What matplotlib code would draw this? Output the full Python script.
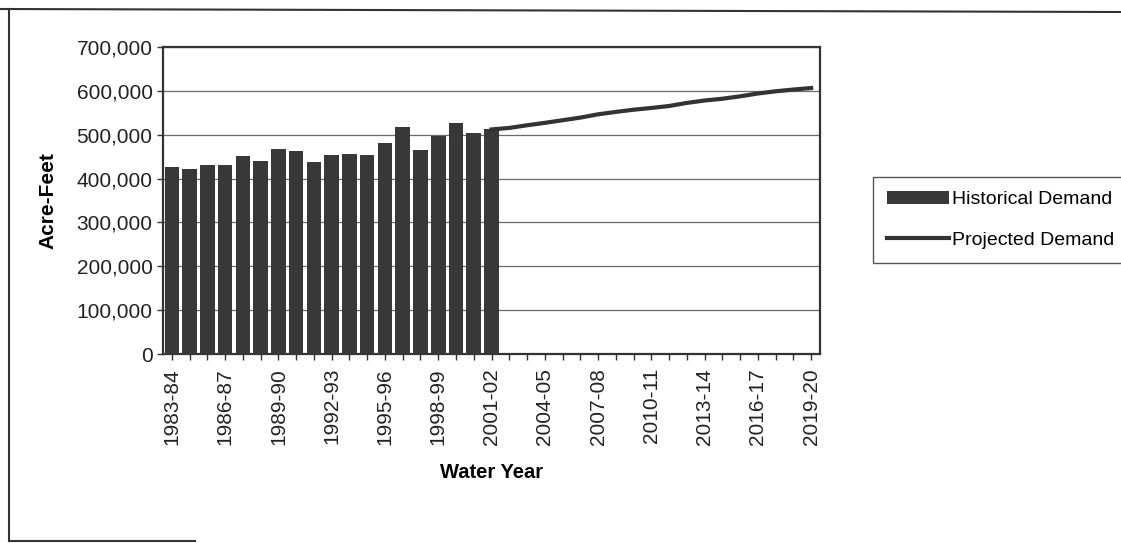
import numpy as np
import matplotlib.pyplot as plt
from matplotlib.lines import Line2D

plt.rcParams['font.family'] = ['Liberation Sans', 'DejaVu Sans']

# water years 1983-84 .. 2019-20
years = [f"{y}-{str(y + 1)[-2:]}" for y in range(1983, 2020)]

# historical demand (acre-feet), 1983-84 .. 2001-02
historical = [427000, 421000, 430000, 430000, 451000, 440000, 468000, 463000,
              437000, 454000, 457000, 454000, 480000, 518000, 466000, 497000,
              526000, 503000, 512000]

# projected demand (acre-feet), 2001-02 .. 2019-20
projected = [512000, 515500, 521500, 527000, 533000, 539000, 546500, 552000,
             557000, 561000, 565500, 572500, 578000, 582000, 587500, 594000,
             599000, 603000, 606500]

W, H = 1121, 543
fig = plt.figure(figsize=(W / 100, H / 100), dpi=100)
ax = fig.add_axes([163 / W, 1 - 354 / H, (820 - 163) / W, (354 - 47) / H])

x_hist = np.arange(len(historical))
x_proj = np.arange(len(historical) - 1, len(years))

bars = ax.bar(x_hist, historical, width=0.82, color='#383838', zorder=3,
              label='Historical Demand')
line, = ax.plot(x_proj, projected, color='#333333', lw=3, zorder=4,
                label='Projected Demand')

ax.set_xlim(-0.5, len(years) - 0.5)
ax.set_ylim(0, 700000)
ax.set_yticks(np.arange(0, 700001, 100000))
ax.set_yticklabels([f"{v:,}" for v in range(0, 700001, 100000)], fontsize=15,
                   color='#222222')
ax.set_xticks(np.arange(len(years)))
ax.set_xticklabels([y if i % 3 == 0 else '' for i, y in enumerate(years)],
                   rotation=90, fontsize=15, color='#222222')
ax.tick_params(axis='both', direction='out', length=4, width=1, color='#333333')
ax.tick_params(axis='x', pad=6)

ax.grid(axis='y', color='#6a6a6a', lw=0.9, zorder=0)
ax.set_axisbelow(True)
for s in ax.spines.values():
    s.set_linewidth(1.6)
    s.set_color('#333333')

ax.set_ylabel('Acre-Feet', fontsize=15, fontweight='bold', labelpad=14)
ax.set_xlabel('Water Year', fontsize=14.5, fontweight='bold', labelpad=13)

leg = fig.legend([bars, line], ['Historical Demand', 'Projected Demand'],
                 loc='upper left', bbox_to_anchor=(873 / W, 1 - 177 / H),
                 borderaxespad=0, fontsize=14, handlelength=3.2,
                 handletextpad=0.15, borderpad=0.7, labelspacing=1.2,
                 fancybox=False, edgecolor='#555555', framealpha=1)
leg.get_frame().set_linewidth(1.0)

# scanned page frame
def px_line(x0, y0, x1, y1, lw=1.5):
    fig.add_artist(Line2D([x0 / W, x1 / W], [1 - y0 / H, 1 - y1 / H],
                          color='#333333', lw=lw))

px_line(0, 9, W, 12)
px_line(9, 9, 9, 541)
px_line(9, 541, 195, 541)

fig.savefig('out.png', dpi=100)
